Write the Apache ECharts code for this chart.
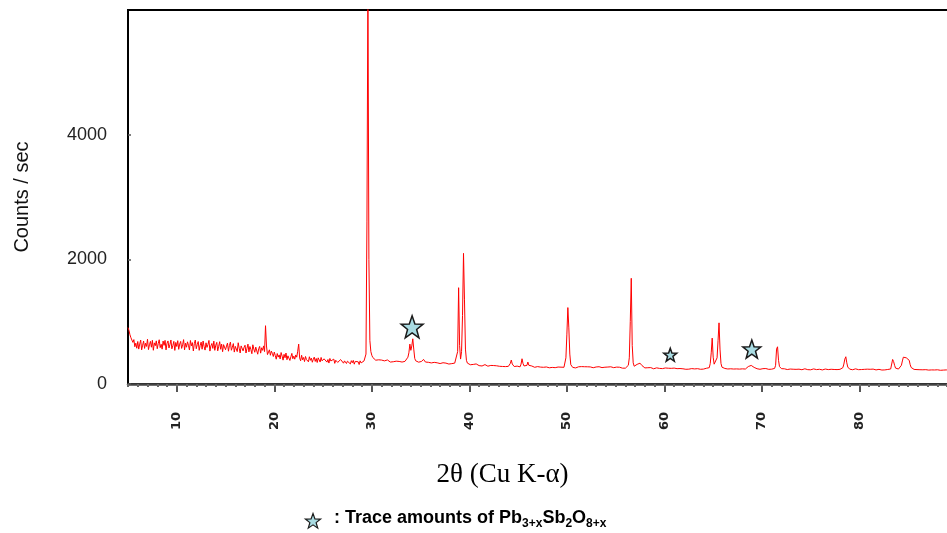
<!DOCTYPE html>
<html>
<head>
<meta charset="utf-8">
<script src="https://cdn.jsdelivr.net/npm/echarts@6/dist/echarts.min.js"></script>
<style>
  html, body { margin: 0; padding: 0; background: #ffffff; }
  #chart { width: 947px; height: 533px; }
</style>
</head>
<body>
<div id="chart"></div>
<script>
// XRD scan: counts per second, sampled from 5.0° to 89.0° (2θ) every 0.1°
const scanStart = 5.0;
const scanStep = 0.1;
const counts = [
  905, 860, 790, 742, 705, 668, 712, 598, 655, 574,   // 5
  682, 560, 641, 705, 548, 622, 690, 571, 654, 603,   // 6
  718, 552, 629, 684, 590, 701, 541, 660, 615, 692,   // 7
  566, 648, 710, 583, 637, 559, 689, 620, 700, 547,   // 8
  652, 691, 578, 633, 706, 564, 618, 684, 539, 667,   // 9
  602, 695, 556, 641, 683, 571, 629, 712, 548, 655,   // 10
  590, 677, 621, 545, 698, 612, 664, 530, 648, 705,   // 11
  566, 632, 681, 540, 619, 672, 558, 690, 603, 544,   // 12
  661, 587, 634, 699, 528, 612, 650, 571, 688, 540,   // 13
  623, 668, 532, 605, 679, 557, 640, 518, 631, 662,   // 14
  549, 609, 656, 526, 617, 672, 541, 590, 648, 512,   // 15
  604, 635, 520, 662, 575, 498, 611, 643, 531, 588,   // 16
  622, 497, 574, 640, 515, 601, 553, 486, 629, 560,   // 17
  509, 592, 620, 478, 566, 603, 495, 581, 540, 611,   // 18
  520, 935, 610, 472, 503, 548, 461, 527, 492, 441,   // 19
  512, 456, 398, 489, 431, 467, 402, 505, 448, 383,   // 20
  476, 421, 497, 389, 452, 470, 378, 436, 491, 405,   // 21
  447, 398, 466, 430, 525, 640, 418, 372, 461, 389,   // 22
  425, 360, 441, 392, 408, 356, 437, 380, 415, 349,   // 23
  398, 431, 362, 409, 345, 420, 388, 352, 426, 371,   // 24
  340, 404, 377, 418, 351, 393, 336, 410, 369, 387,   // 25
  348, 399, 331, 381, 402, 346, 373, 325, 392, 360,   // 26
  383, 334, 371, 398, 329, 366, 351, 388, 322, 374,   // 27
  341, 379, 318, 362, 389, 330, 356, 312, 371, 338,   // 28
  352, 336, 370, 395, 480, 2600, 6400, 2000, 700, 520, // 29
  460, 425, 398, 410, 382, 395, 370, 388, 362, 379,   // 30
  384, 365, 390, 371, 358, 376, 386, 360, 374, 352,   // 31
  369, 381, 357, 372, 349, 366, 378, 355, 362, 345,   // 32
  368, 352, 371, 349, 363, 375, 392, 430, 500, 640,   // 33
  540, 610, 725, 560, 410, 372, 360, 366, 350, 358,   // 34
  345, 362, 380, 395, 371, 352, 340, 355, 348, 336,   // 35
  350, 338, 344, 331, 347, 336, 325, 340, 330, 343,   // 36
  328, 337, 322, 341, 330, 318, 335, 326, 339, 320,   // 37
  331, 316, 327, 338, 322, 335, 318, 345, 520, 1545,  // 38
  620, 400, 520, 1100, 2096, 1350, 560, 380, 335, 322, // 39
  318, 309, 325, 301, 314, 296, 310, 322, 300, 307,   // 40
  295, 312, 302, 289, 306, 298, 311, 293, 300, 286,   // 41
  304, 291, 298, 309, 287, 296, 283, 301, 292, 288,   // 42
  297, 284, 293, 302, 281, 290, 286, 279, 295, 289,   // 43
  283, 296, 330, 384, 320, 288, 280, 292, 276, 287,   // 44
  280, 291, 275, 318, 405, 330, 290, 284, 278, 298,   // 45
  352, 300, 283, 276, 289, 272, 281, 268, 285, 274,   // 46
  279, 266, 282, 271, 263, 277, 268, 280, 262, 273,   // 47
  265, 276, 260, 271, 283, 266, 258, 274, 262, 270,   // 48
  259, 272, 264, 256, 270, 261, 275, 268, 300, 420,   // 49
  800, 1226, 900, 480, 310, 278, 266, 262, 275, 258,  // 50
  280, 268, 276, 285, 266, 279, 271, 262, 277, 268,   // 51
  264, 276, 268, 260, 274, 265, 279, 261, 271, 266,   // 52
  273, 262, 270, 277, 259, 268, 263, 274, 257, 269,   // 53
  265, 258, 272, 261, 267, 276, 255, 270, 262, 264,   // 54
  259, 271, 263, 256, 269, 261, 267, 254, 265, 260,   // 55
  254, 243, 262, 300, 420, 1000, 1696, 620, 340, 285, // 56
  282, 298, 315, 328, 338, 334, 318, 296, 276, 265,   // 57
  258, 266, 252, 261, 247, 257, 263, 250, 256, 244,   // 58
  253, 248, 259, 245, 256, 250, 242, 255, 247, 252,   // 59
  246, 257, 249, 240, 253, 262, 244, 251, 239, 248,   // 60
  255, 243, 250, 246, 237, 252, 248, 241, 254, 244,   // 61
  240, 249, 236, 252, 245, 238, 250, 243, 247, 235,   // 62
  248, 242, 251, 237, 246, 240, 253, 236, 244, 249,   // 63
  239, 247, 241, 252, 236, 245, 262, 330, 500, 736,   // 64
  430, 318, 300, 330, 420, 700, 981, 560, 330, 270,   // 65
  252, 243, 249, 238, 246, 241, 250, 236, 244, 239,   // 66
  247, 240, 235, 248, 242, 237, 245, 239, 250, 236,   // 67
  243, 238, 246, 240, 251, 262, 280, 300, 310, 298,   // 68
  285, 276, 266, 258, 250, 245, 241, 248, 236, 244,   // 69
  239, 246, 234, 242, 248, 237, 243, 235, 240, 246,   // 70
  238, 244, 236, 250, 300, 560, 597, 380, 280, 255,   // 71
  246, 240, 233, 244, 238, 241, 232, 246, 236, 240,   // 72
  234, 243, 237, 230, 241, 235, 245, 231, 238, 242,   // 73
  236, 229, 240, 234, 244, 232, 238, 230, 241, 235,   // 74
  228, 239, 233, 242, 230, 237, 231, 240, 227, 236,   // 75
  241, 232, 226, 238, 233, 240, 229, 235, 231, 238,   // 76
  230, 236, 228, 239, 233, 226, 237, 231, 240, 229,   // 77
  235, 241, 238, 262, 320, 400, 437, 340, 272, 245,   // 78
  238, 232, 240, 229, 236, 231, 243, 227, 235, 230,   // 79
  226, 237, 232, 240, 228, 235, 230, 225, 238, 233,   // 80
  229, 236, 224, 233, 239, 228, 234, 226, 237, 231,   // 81
  235, 227, 232, 224, 238, 230, 226, 236, 229, 233,   // 82
  228, 235, 241, 270, 394, 360, 300, 255, 240, 236,   // 83
  240, 248, 262, 300, 370, 430, 453, 415, 420, 430,   // 84
  435, 380, 310, 265, 248, 240, 234, 228, 236, 231,   // 85
  226, 233, 229, 222, 235, 228, 231, 224, 230, 227,   // 86
  232, 223, 229, 235, 226, 221, 230, 225, 233, 222,   // 87
  228, 224, 231, 220, 227, 233, 223, 229, 221, 226,   // 88
  224                                                 // 89
];

// Reflections attributed to Pb3+xSb2O8+x (2θ, counts/sec where the star sits)
const traceAngles = [34.13, 60.6, 68.96];
const traceCounts = [917, 469, 560];

// Axis ticks
const angleTicks = [10, 20, 30, 40, 50, 60, 70, 80];
const countTicks = [0, 2000, 4000];

// Marker sizes, one per star
const starSizes = [22, 13, 18];

// Five-pointed star outline in a 24x24 box
const starPoints = [[12, 0.8], [14.9, 8.9], [23.4, 9.1], [16.7, 14.4], [19.1, 22.7],
                    [12, 17.8], [4.9, 22.7], [7.3, 14.4], [0.6, 9.1], [9.1, 8.9]];
const starPath = 'M' + starPoints.map(p => p[0] + ',' + p[1]).join(' L') + ' Z';

const scan = counts.map((c, i) => [Math.round((scanStart + i * scanStep) * 10) / 10, c]);
const traces = traceAngles.map((a, i) => [a, traceCounts[i]]);

const chart = echarts.init(document.getElementById('chart'), null, { renderer: 'canvas' });

chart.setOption({
  animation: false,
  backgroundColor: '#ffffff',
  grid: {
    // the plot runs a little past the right edge of the page
    left: 128, top: 10, width: 829, height: 374,
    outerBoundsMode: 'none',
    containLabel: false,
    show: true, borderColor: '#000', borderWidth: 2, backgroundColor: 'transparent'
  },
  xAxis: [{
    type: 'value', min: 5, max: 90,
    position: 'bottom',
    name: '2θ (Cu K-α)',
    nameLocation: 'middle',
    nameGap: 77,
    nameTextStyle: {
      fontFamily: 'Liberation Serif', fontSize: 27, color: '#000',
      padding: [0, 80, 0, 0]
    },
    axisLine: { show: true, onZero: false, lineStyle: { color: '#444', width: 2.5 } },
    axisTick: { show: true, inside: false, length: 8, customValues: angleTicks, lineStyle: { color: '#555', width: 2 } },
    axisLabel: {
      show: true, rotate: 90, margin: 28, customValues: angleTicks,
      fontFamily: 'DejaVu Sans', fontWeight: 'bold', fontSize: 13, color: '#222'
    },
    splitLine: { show: false }
  }, {
    // 1° minor ticks sharing the same scale
    type: 'value', min: 5, max: 90, interval: 1,
    position: 'bottom',
    axisLine: { show: false },
    axisTick: { show: true, inside: false, length: 3, lineStyle: { color: '#666', width: 2 } },
    axisLabel: { show: false },
    splitLine: { show: false }
  }],
  yAxis: {
    type: 'value', min: 0, max: 6000,
    name: 'Counts / sec',
    nameLocation: 'middle',
    nameGap: 96,
    nameTextStyle: { fontFamily: 'Liberation Sans', fontSize: 20, color: '#111' },
    axisLine: { show: true, onZero: false, lineStyle: { color: '#000', width: 1.5 } },
    axisTick: { show: true, inside: true, length: 3, customValues: countTicks, lineStyle: { color: '#555', width: 1.5 } },
    axisLabel: {
      show: true, margin: 21, customValues: countTicks,
      formatter: v => String(v),
      fontFamily: 'Liberation Sans', fontSize: 18, color: '#222'
    },
    splitLine: { show: false }
  },
  series: [{
    type: 'line',
    data: scan,
    xAxisIndex: 0,
    showSymbol: false,
    symbol: 'none',
    clip: true,
    lineStyle: { color: '#ff0000', width: 1 },
    z: 2
  }, {
    type: 'scatter',
    data: traces,
    xAxisIndex: 0,
    symbol: 'path://' + starPath,
    symbolSize: (val, params) => starSizes[params.dataIndex],
    itemStyle: { color: '#a9dbe2', borderColor: '#1a1a1a', borderWidth: 1.5, opacity: 1 },
    z: 3
  }],
  graphic: [{
    type: 'polygon',
    x: 305, y: 513, scaleX: 16 / 24, scaleY: 16 / 24,
    shape: { points: starPoints },
    style: { fill: '#a9dbe2', stroke: '#1a1a1a', lineWidth: 1.8 }
  }, {
    type: 'text',
    x: 334, y: 507,
    style: {
      text: '{n|: Trace amounts of Pb}{s|3+x}{n|Sb}{s|2}{n|O}{s|8+x}',
      rich: {
        n: { fontFamily: 'Liberation Sans', fontWeight: 'bold', fontSize: 18, fill: '#000', lineHeight: 22 },
        s: { fontFamily: 'Liberation Sans', fontWeight: 'bold', fontSize: 12, fill: '#000', lineHeight: 14, padding: [12, 0, 0, 0] }
      }
    }
  }]
});
</script>
</body>
</html>
